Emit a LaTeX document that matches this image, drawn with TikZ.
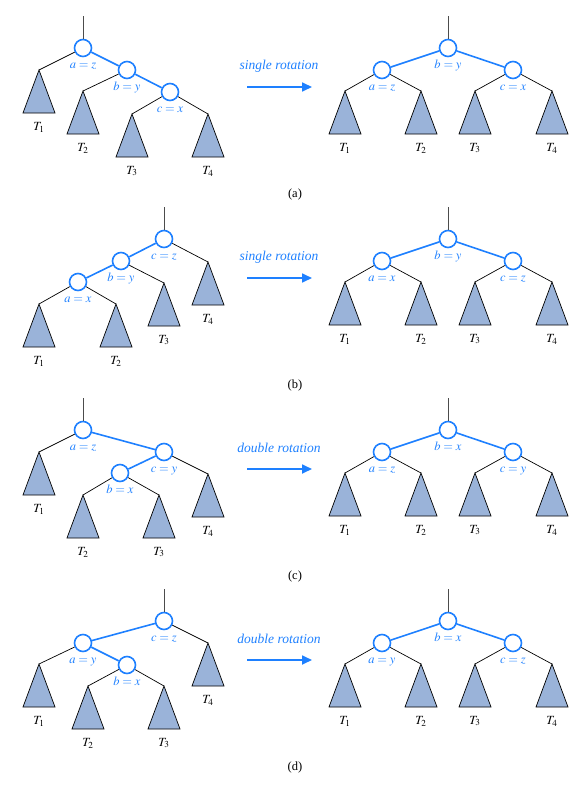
\documentclass[tikz,border=0pt]{standalone}
\usepackage{mathptmx}
\usepackage{fontspec}
\setmainfont{Liberation Serif}
\usetikzlibrary{arrows.meta,positioning}
\definecolor{avlblue}{HTML}{1E80FF}
\definecolor{treefill}{HTML}{9AB3D9}
\tikzset{
  tnode/.style={circle, draw=avlblue, line width=1.6pt, fill=white, minimum size=17pt, inner sep=0pt},
  keylbl/.style={text=avlblue, font=\fontsize{12.5}{14}\selectfont, inner sep=0pt, text height=7pt, text depth=2pt, below=4pt of #1},
  blueedge/.style={avlblue, line width=1.6pt},
  blackedge/.style={black, line width=0.7pt},
  rootedge/.style={black!70, line width=0.8pt},
  subtri/.style={draw=black, line width=0.7pt, fill=treefill},
  tlbl/.style={font=\fontsize{12.5}{14}\selectfont, inner sep=0pt},
  rotlbl/.style={text=avlblue, font=\fontsize{13.5}{16}\selectfont\itshape, inner sep=0pt},
  rotarrow/.style={avlblue, line width=1.7pt, -{Triangle[length=10pt,width=9pt]}},
  caplbl/.style={font=\fontsize{12.5}{14}\selectfont, inner sep=0pt}
}
% subtree: name, x, y (apex), label
\newcommand{\subtree}[4]{%
  \coordinate (#1) at (#2,#3);
  \draw[subtri] (#1) -- ++(-16,43) -- ++(32,0) -- cycle;
  \node[tlbl] (#1l) at (#2,#3+57) {$#4$};
}
\begin{document}
\begin{tikzpicture}[x=1pt, y=-1pt]
  \useasboundingbox (0,0) rectangle (586,792);
  % (a) left tree
  \begin{scope}
    \coordinate (r0) at (83,16);
    \node[tnode] (a0) at (83,48) {};
    \node[tnode] (b0) at (127,70) {};
    \node[tnode] (c0) at (170,92) {};
    \node[keylbl=a0] (la0) {$a=z$};
    \node[keylbl=b0] (lb0) {$b=y$};
    \node[keylbl=c0] (lc0) {$c=x$};
    \subtree{t10}{39}{70}{T_1}
    \subtree{t20}{83}{91}{T_2}
    \subtree{t30}{132}{114}{T_3}
    \subtree{t40}{208}{114}{T_4}
    \draw[rootedge] (a0) -- (r0);
    \draw[blueedge] (a0) -- (b0) -- (c0);
    \draw[blackedge] (a0) -- (t10) (b0) -- (t20) (c0) -- (t30) (c0) -- (t40);
  \end{scope}
  % (b) left tree
  \begin{scope}[shift={(0,191)}]
    \coordinate (r1) at (164,16);
    \node[tnode] (c1) at (164,48) {};
    \node[tnode] (b1) at (121,70) {};
    \node[tnode] (a1) at (78,91) {};
    \node[keylbl=a1] (la1) {$a=x$};
    \node[keylbl=b1] (lb1) {$b=y$};
    \node[keylbl=c1] (lc1) {$c=z$};
    \subtree{t11}{39}{113}{T_1}
    \subtree{t21}{116}{113}{T_2}
    \subtree{t31}{164}{92}{T_3}
    \subtree{t41}{208}{71}{T_4}
    \draw[rootedge] (c1) -- (r1);
    \draw[blueedge] (c1) -- (b1) -- (a1);
    \draw[blackedge] (a1) -- (t11) (a1) -- (t21) (b1) -- (t31) (c1) -- (t41);
  \end{scope}
  % (c) left tree
  \begin{scope}[shift={(0,382)}]
    \coordinate (r2) at (83,16);
    \node[tnode] (a2) at (83,48) {};
    \node[tnode] (c2) at (164,70) {};
    \node[tnode] (b2) at (120,91) {};
    \node[keylbl=a2] (la2) {$a=z$};
    \node[keylbl=b2] (lb2) {$b=x$};
    \node[keylbl=c2] (lc2) {$c=y$};
    \subtree{t12}{39}{70}{T_1}
    \subtree{t22}{83}{113}{T_2}
    \subtree{t32}{159}{113}{T_3}
    \subtree{t42}{208}{92}{T_4}
    \draw[rootedge] (a2) -- (r2);
    \draw[blueedge] (a2) -- (c2) -- (b2);
    \draw[blackedge] (a2) -- (t12) (b2) -- (t22) (b2) -- (t32) (c2) -- (t42);
  \end{scope}
  % (d) left tree
  \begin{scope}[shift={(0,573)}]
    \coordinate (r3) at (164,16);
    \node[tnode] (c3) at (164,48) {};
    \node[tnode] (a3) at (83,70) {};
    \node[tnode] (b3) at (127,92) {};
    \node[keylbl=a3] (la3) {$a=y$};
    \node[keylbl=b3] (lb3) {$b=x$};
    \node[keylbl=c3] (lc3) {$c=z$};
    \subtree{t13}{39}{91}{T_1}
    \subtree{t23}{88}{113}{T_2}
    \subtree{t33}{164}{113}{T_3}
    \subtree{t43}{208}{70}{T_4}
    \draw[rootedge] (c3) -- (r3);
    \draw[blueedge] (c3) -- (a3) -- (b3);
    \draw[blackedge] (a3) -- (t13) (b3) -- (t23) (b3) -- (t33) (c3) -- (t43);
  \end{scope}
  % Rotation arrows, balanced trees and captions
  \foreach \p/\panel/\ka/\kb/\kc/\kind in {0/a/z/y/x/single, 1/b/x/y/z/single, 2/c/z/x/y/double, 3/d/y/x/z/double} {
    \begin{scope}[shift={(0,191*\p)}]
      \coordinate (as\p) at (247,87);
      \coordinate (ae\p) at (312,87);
      \draw[rotarrow] (as\p) -- (ae\p);
      \node[rotlbl] (rot\p) at (279,66) {\kind\ rotation};
      \coordinate (rr\p) at (448,16);
      \node[tnode] (rb\p) at (448,48) {};
      \node[tnode] (ra\p) at (382,70) {};
      \node[tnode] (rc\p) at (513,70) {};
      \node[keylbl=rb\p] (lrb\p) {$b=\kb$};
      \node[keylbl=ra\p] (lra\p) {$a=\ka$};
      \node[keylbl=rc\p] (lrc\p) {$c=\kc$};
      \subtree{rt1\p}{345}{91}{T_1}
      \subtree{rt2\p}{421}{91}{T_2}
      \subtree{rt3\p}{475}{91}{T_3}
      \subtree{rt4\p}{552}{91}{T_4}
      \draw[rootedge] (rb\p) -- (rr\p);
      \draw[blueedge] (ra\p) -- (rb\p) -- (rc\p);
      \draw[blackedge] (ra\p) -- (rt1\p) (ra\p) -- (rt2\p) (rc\p) -- (rt3\p) (rc\p) -- (rt4\p);
      \node[caplbl] (cap\p) at (295,194) {(\panel)};
    \end{scope}
  }
\end{tikzpicture}
\end{document}
